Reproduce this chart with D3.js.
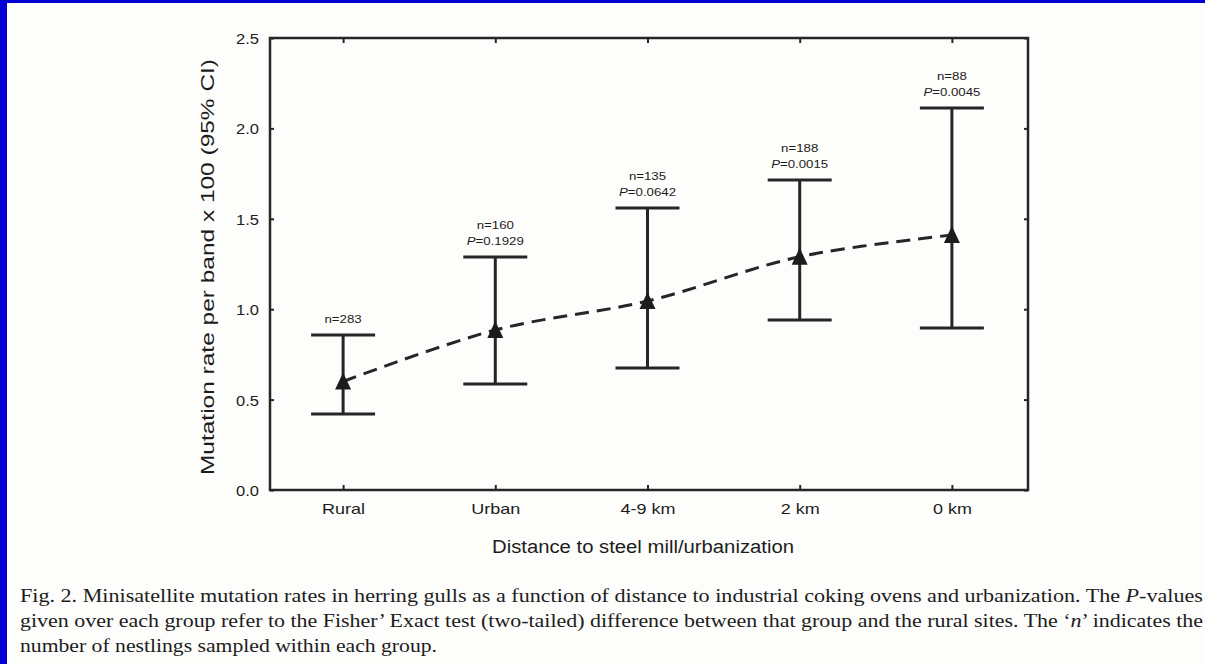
<!DOCTYPE html>
<html><head><meta charset="utf-8">
<script src="https://cdn.jsdelivr.net/npm/d3@7/dist/d3.min.js"></script>
<style>body{margin:0;background:#fff;}svg{display:block;}</style>
</head><body>
<script>
const categories = ["Rural","Urban","4-9 km","2 km","0 km"];
const means = [0.60, 0.885, 1.045, 1.29, 1.41];
const upper = [0.857, 1.289, 1.56, 1.715, 2.113];
const lower = [0.42, 0.586, 0.675, 0.94, 0.896];
const nLabels = ["n=283","n=160","n=135","n=188","n=88"];
const pLabels = [null,"0.1929","0.0642","0.0015","0.0045"];
const yTicks = [0.0,0.5,1.0,1.5,2.0,2.5];
const caption = [
 "Fig. 2. Minisatellite mutation rates in herring gulls as a function of distance to industrial coking ovens and urbanization. The P-values",
 "given over each group refer to the Fisher’ Exact test (two-tailed) difference between that group and the rural sites. The ‘n’ indicates the",
 "number of nestlings sampled within each group."
];

const W=1205,H=664;
const svg=d3.select("body").append("svg").attr("width",W).attr("height",H);
svg.append("rect").attr("width",W).attr("height",H).attr("fill","#fdfdfb");
svg.append("rect").attr("x",0).attr("y",0).attr("width",W).attr("height",3).attr("fill","#0000d2");
svg.append("rect").attr("x",0).attr("y",0).attr("width",7).attr("height",H).attr("fill","#0000d2");

const L=270,R=1028,T=38,B=490;
const x=d3.scalePoint().domain(categories).range([267,1028]).padding(0.5);
const y=d3.scaleLinear().domain([0,2.5]).range([B,T]);
const ink="#262626";
const sans="Liberation Sans, Arial, sans-serif";

function stretch(sel,f){
  sel.each(function(){
    const w=this.getComputedTextLength();
    d3.select(this).attr("textLength",w*f).attr("lengthAdjust","spacingAndGlyphs");
  });
}

// frame
svg.append("rect").attr("x",L).attr("y",T).attr("width",R-L).attr("height",B-T)
  .attr("fill","none").attr("stroke",ink).attr("stroke-width",2.5);

// axes
const yAxis=d3.axisLeft(y).tickValues(yTicks).tickFormat(d3.format(".1f")).tickSizeInner(-4).tickSizeOuter(0).tickPadding(11);
const gy=svg.append("g").attr("transform",`translate(${L},0)`).call(yAxis);
const yAxisR=d3.axisRight(y).tickValues(yTicks).tickFormat("").tickSizeInner(-4).tickSizeOuter(0);
const gyr=svg.append("g").attr("transform",`translate(${R},0)`).call(yAxisR);
const xAxis=d3.axisBottom(x).tickSizeInner(-5).tickSizeOuter(0).tickPadding(13);
const gx=svg.append("g").attr("transform",`translate(0,${B})`).call(xAxis);
const xAxisT=d3.axisTop(x).tickFormat("").tickSizeInner(-5).tickSizeOuter(0);
const gxt=svg.append("g").attr("transform",`translate(0,${T})`).call(xAxisT);
[gy,gyr,gx,gxt].forEach(g=>{
  g.select(".domain").remove();
  g.selectAll(".tick line").attr("stroke",ink).attr("stroke-width",2);
  g.selectAll("text").attr("fill","#1c1c1c").style("font-family",sans).style("font-size","15px");
});
gy.selectAll("text").attr("dy","0.36em");
stretch(gy.selectAll("text"),1.1);
stretch(gx.selectAll("text"),1.2);

// axis titles
const yt=svg.append("text").attr("transform",`translate(214,${267}) rotate(-90)`).attr("text-anchor","middle")
  .style("font-family",sans).style("font-size","18px").attr("fill","#1c1c1c")
  .text("Mutation rate per band x 100 (95% CI)").attr("textLength",416).attr("lengthAdjust","spacingAndGlyphs");
svg.append("text").attr("x",643).attr("y",553).attr("text-anchor","middle")
  .style("font-family",sans).style("font-size","18px").attr("fill","#1c1c1c")
  .text("Distance to steel mill/urbanization").attr("textLength",302).attr("lengthAdjust","spacingAndGlyphs");

// dashed curve
const pts=categories.map((c,i)=>[x(c),y(means[i])]);
svg.append("path").attr("d",d3.line().curve(d3.curveCatmullRom.alpha(0.5))(pts))
  .attr("fill","none").attr("stroke",ink).attr("stroke-width",3).attr("stroke-dasharray","14,8");

// error bars
const capW=32;
categories.forEach((c,i)=>{
  const cx=x(c);
  svg.append("line").attr("x1",cx).attr("x2",cx).attr("y1",y(upper[i])).attr("y2",y(lower[i])).attr("stroke",ink).attr("stroke-width",3);
  [upper[i],lower[i]].forEach(v=>svg.append("line").attr("x1",cx-capW).attr("x2",cx+capW).attr("y1",y(v)).attr("y2",y(v)).attr("stroke",ink).attr("stroke-width",3));
  const my=y(means[i]);
  svg.append("path").attr("d",`M${cx},${my-9}L${cx+8},${my+8}L${cx-8},${my+8}Z`).attr("fill","#1c1c1c");
  const capY=y(upper[i]);
  if(pLabels[i]){
    const n=svg.append("text").attr("x",cx).attr("y",capY-28).attr("text-anchor","middle").style("font-family",sans).style("font-size","11.5px").attr("fill","#1c1c1c").text(nLabels[i]);
    const t=svg.append("text").attr("x",cx).attr("y",capY-12).attr("text-anchor","middle").style("font-family",sans).style("font-size","11.5px").attr("fill","#1c1c1c");
    t.append("tspan").style("font-style","italic").text("P");
    t.append("tspan").text("="+pLabels[i]);
    stretch(n,1.15); stretch(t,1.15);
  } else {
    const n=svg.append("text").attr("x",cx).attr("y",capY-12).attr("text-anchor","middle").style("font-family",sans).style("font-size","11.5px").attr("fill","#1c1c1c").text(nLabels[i]);
    stretch(n,1.15);
  }
});

// caption
const capYs=[602,627,652];
caption.forEach((line,i)=>{
  const t=svg.append("text").attr("x",20).attr("y",capYs[i]).style("font-family","Liberation Serif, Times New Roman, serif").style("font-size","18px").attr("fill","#1c1c1c");
  t.attr("textLength",i<2?1183:417).attr("lengthAdjust","spacingAndGlyphs");
  const parts=line.split(/(P-values|‘n’)/);
  parts.forEach(p=>{
    if(p==="P-values"){ t.append("tspan").style("font-style","italic").text("P"); t.append("tspan").text("-values"); }
    else if(p==="‘n’"){ t.append("tspan").text("‘"); t.append("tspan").style("font-style","italic").text("n"); t.append("tspan").text("’"); }
    else if(p) t.append("tspan").text(p);
  });
});
</script>
</body></html>
